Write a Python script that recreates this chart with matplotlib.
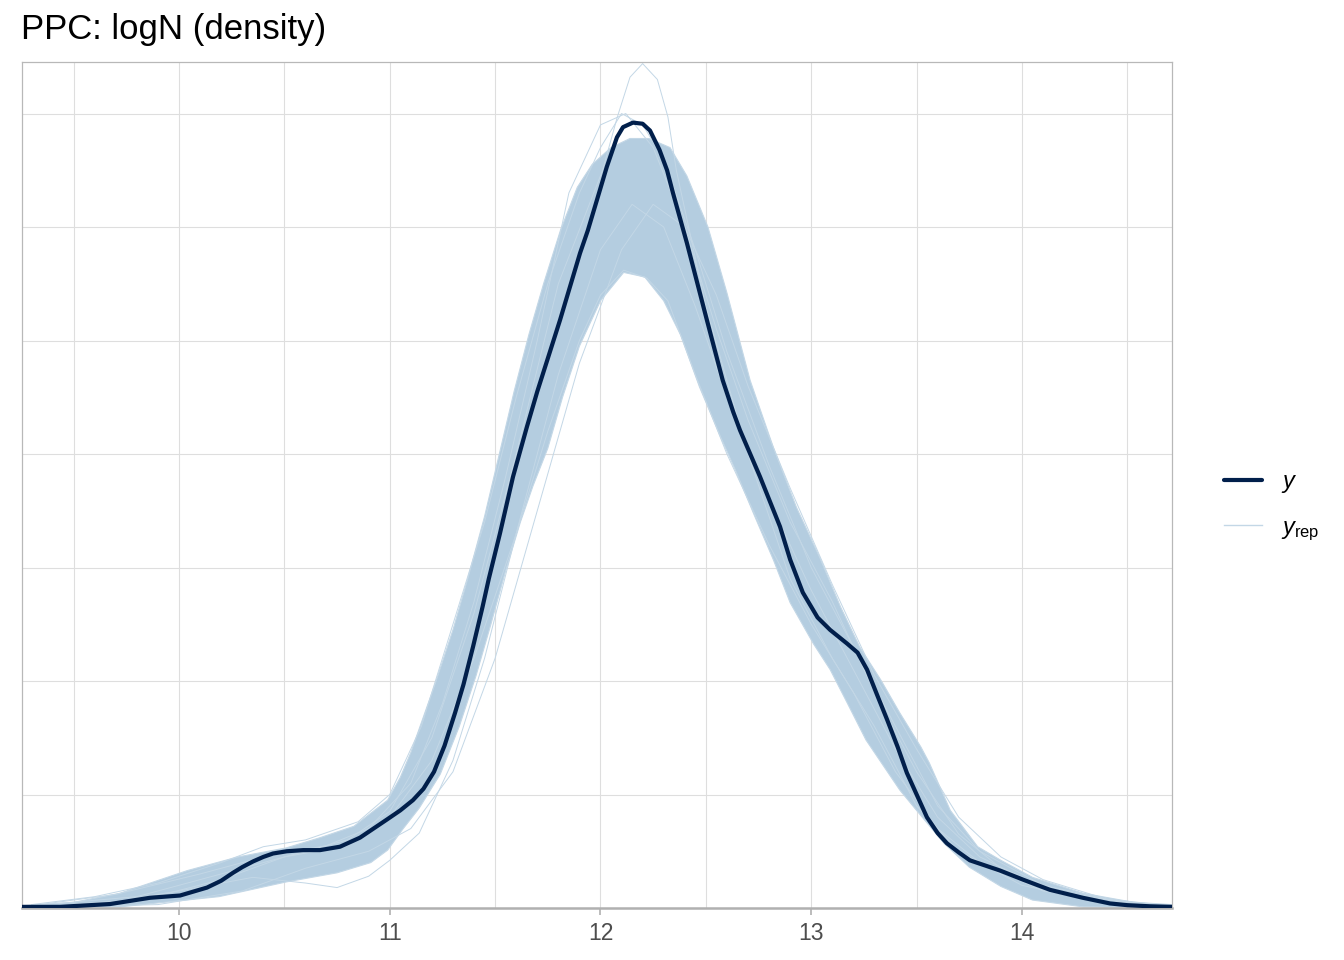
import numpy as np
import matplotlib
matplotlib.use('Agg')
import matplotlib.pyplot as plt
from matplotlib.lines import Line2D

plt.rcParams['font.family'] = ['Liberation Sans', 'DejaVu Sans']
plt.rcParams['mathtext.fontset'] = 'custom'
plt.rcParams['mathtext.rm'] = 'Liberation Sans'
plt.rcParams['mathtext.it'] = 'Liberation Sans:italic'

# observed density (y)
y_x = [9.255, 9.435, 9.673, 9.862, 10.005, 10.133, 10.20, 10.256, 10.30, 10.351,
       10.40, 10.446, 10.512, 10.59, 10.669, 10.764, 10.859, 10.987, 11.05, 11.11,
       11.16, 11.21, 11.26, 11.31, 11.35, 11.395, 11.44, 11.47, 11.523, 11.585,
       11.651, 11.70, 11.808, 11.903, 11.94, 11.998, 12.03, 12.078, 12.107, 12.154,
       12.20, 12.235, 12.28, 12.316, 12.344, 12.410, 12.505, 12.58, 12.63, 12.662,
       12.757, 12.852, 12.90, 12.96, 13.03, 13.09, 13.17, 13.22, 13.265, 13.31,
       13.36, 13.41, 13.454, 13.549, 13.60, 13.644, 13.70, 13.753, 13.896, 14.005,
       14.133, 14.289, 14.418, 14.50, 14.607, 14.712]
y_d = [0.001, 0.001, 0.0035, 0.009, 0.011, 0.018, 0.024, 0.031, 0.036, 0.041,
       0.045, 0.048, 0.050, 0.051, 0.051, 0.054, 0.062, 0.078, 0.086, 0.095,
       0.105, 0.120, 0.143, 0.172, 0.197, 0.230, 0.265, 0.290, 0.330, 0.380,
       0.424, 0.455, 0.518, 0.577, 0.597, 0.633, 0.653, 0.679, 0.688, 0.692,
       0.691, 0.685, 0.668, 0.650, 0.630, 0.586, 0.518, 0.465, 0.437, 0.421,
       0.380, 0.336, 0.307, 0.278, 0.256, 0.245, 0.233, 0.225, 0.210, 0.189,
       0.166, 0.142, 0.119, 0.080, 0.066, 0.057, 0.049, 0.042, 0.033, 0.025,
       0.016, 0.009, 0.004, 0.0025, 0.0015, 0.001]

# dense core of the replicated densities (upper / lower envelope)
up_x = [9.255, 9.50, 9.72, 10.04, 10.28, 10.51, 10.67, 10.83, 10.99, 11.05,
        11.10, 11.14, 11.22, 11.30, 11.37, 11.45, 11.52, 11.59, 11.66, 11.73,
        11.81, 11.89, 11.96, 12.05, 12.14, 12.23, 12.33, 12.41, 12.51, 12.60,
        12.71, 12.82, 12.93, 13.04, 13.14, 13.23, 13.33, 13.42, 13.52, 13.56,
        13.66, 13.79, 13.90, 14.05, 14.29, 14.53, 14.71]
up_d = [0.002, 0.005, 0.013, 0.033, 0.045, 0.053, 0.062, 0.072, 0.095, 0.115,
        0.137, 0.158, 0.200, 0.245, 0.290, 0.345, 0.400, 0.455, 0.505, 0.550,
        0.597, 0.635, 0.655, 0.670, 0.678, 0.678, 0.670, 0.645, 0.600, 0.542,
        0.465, 0.406, 0.353, 0.309, 0.265, 0.230, 0.201, 0.172, 0.142, 0.128,
        0.086, 0.054, 0.042, 0.027, 0.013, 0.005, 0.003]
lo_x = [9.255, 9.72, 10.19, 10.51, 10.75, 10.91, 10.99, 11.06, 11.14, 11.24,
        11.33, 11.41, 11.48, 11.55, 11.62, 11.68, 11.75, 11.82, 11.90, 12.00,
        12.11, 12.21, 12.30, 12.38, 12.47, 12.57, 12.64, 12.73, 12.82, 12.90,
        13.01, 13.09, 13.17, 13.26, 13.34, 13.42, 13.50, 13.63, 13.75, 13.90,
        14.05, 14.29, 14.71]
lo_d = [0.0005, 0.001, 0.010, 0.023, 0.031, 0.040, 0.051, 0.069, 0.088, 0.118,
        0.160, 0.205, 0.250, 0.297, 0.340, 0.372, 0.405, 0.450, 0.495, 0.535,
        0.560, 0.556, 0.535, 0.505, 0.459, 0.415, 0.386, 0.346, 0.307, 0.269,
        0.233, 0.210, 0.181, 0.148, 0.126, 0.104, 0.086, 0.057, 0.036, 0.019,
        0.007, 0.001, 0.0005]

# a few single replicated densities at the edges of the band
rep_tall_x = [9.3, 9.8, 10.2, 10.5, 10.8, 11.0, 11.2, 11.4, 11.6, 11.8, 12.01, 12.08,
              12.14, 12.20, 12.27, 12.32, 12.36, 12.5, 12.7, 12.9, 13.1, 13.3, 13.5,
              13.7, 14.0, 14.4, 14.7]
rep_tall_d = [0.001, 0.006, 0.025, 0.045, 0.06, 0.085, 0.15, 0.26, 0.40, 0.55, 0.650, 0.697,
              0.732, 0.744, 0.730, 0.697, 0.650, 0.53, 0.40, 0.29, 0.22, 0.16, 0.09,
              0.05, 0.02, 0.004, 0.001]
rep_low_x = [9.3, 9.8, 10.2, 10.5, 10.8, 11.0, 11.2, 11.4, 11.6, 11.75, 11.9, 12.0, 12.11,
             12.22, 12.32, 12.45, 12.6, 12.8, 13.0, 13.2, 13.4, 13.6, 13.8, 14.1, 14.5, 14.7]
rep_low_d = [0.002, 0.01, 0.03, 0.045, 0.055, 0.08, 0.13, 0.22, 0.33, 0.42, 0.50, 0.54, 0.562,
             0.555, 0.535, 0.47, 0.40, 0.32, 0.25, 0.19, 0.12, 0.07, 0.04, 0.015, 0.003, 0.001]
rep_dip_x = [9.3, 9.7, 10.0, 10.35, 10.6, 10.75, 10.9, 11.0, 11.14, 11.3, 11.45, 11.6, 11.8,
             12.0, 12.15, 12.3, 12.45, 12.6, 12.8, 13.0, 13.2, 13.4, 13.6, 13.8, 14.1, 14.5, 14.7]
rep_dip_d = [0.001, 0.006, 0.015, 0.027, 0.022, 0.018, 0.028, 0.042, 0.066, 0.13, 0.22, 0.33, 0.47,
             0.58, 0.62, 0.60, 0.53, 0.45, 0.36, 0.28, 0.21, 0.14, 0.08, 0.045, 0.018, 0.004, 0.001]
rep_hi_x = [9.3, 9.6, 9.9, 10.2, 10.4, 10.6, 10.85, 11.0, 11.15, 11.3, 11.45, 11.6, 11.75,
            11.9, 12.0, 12.1, 12.2, 12.3, 12.45, 12.6, 12.8, 13.0, 13.2, 13.4, 13.6, 13.8,
            14.1, 14.5, 14.7]
rep_hi_d = [0.003, 0.01, 0.022, 0.04, 0.054, 0.06, 0.076, 0.10, 0.16, 0.25, 0.34, 0.45, 0.55,
            0.63, 0.67, 0.70, 0.69, 0.66, 0.58, 0.49, 0.39, 0.30, 0.23, 0.16, 0.09, 0.05,
            0.02, 0.004, 0.001]
rep_right_x = [9.3, 9.9, 10.3, 10.6, 10.9, 11.1, 11.3, 11.5, 11.7, 11.9, 12.1, 12.25, 12.4,
               12.55, 12.7, 12.9, 13.1, 13.3, 13.5, 13.7, 13.9, 14.1, 14.4, 14.7]
rep_right_d = [0.0005, 0.003, 0.015, 0.035, 0.05, 0.07, 0.12, 0.22, 0.35, 0.48, 0.58, 0.62, 0.60,
               0.54, 0.46, 0.37, 0.285, 0.205, 0.14, 0.08, 0.045, 0.025, 0.008, 0.002]
rep_left_x = [9.3, 9.7, 10.1, 10.4, 10.7, 10.9, 11.1, 11.25, 11.4, 11.55, 11.7, 11.85, 12.0,
              12.12, 12.25, 12.4, 12.55, 12.7, 12.9, 13.1, 13.3, 13.5, 13.7, 13.9, 14.2, 14.7]
rep_left_d = [0.002, 0.012, 0.03, 0.045, 0.055, 0.07, 0.11, 0.18, 0.27, 0.38, 0.50, 0.63, 0.69,
              0.70, 0.67, 0.60, 0.51, 0.43, 0.34, 0.27, 0.19, 0.12, 0.065, 0.035, 0.012, 0.001]

reps = [(rep_tall_x, rep_tall_d), (rep_low_x, rep_low_d), (rep_dip_x, rep_dip_d),
        (rep_hi_x, rep_hi_d), (rep_right_x, rep_right_d), (rep_left_x, rep_left_d)]

dark = '#011f4b'
light = '#b4cde0'
line_light = '#c3d7e6'

fig = plt.figure(figsize=(13.44, 9.6), dpi=100)
ax = fig.add_axes([22 / 1344, 52 / 960, 1150 / 1344, 846 / 960])

band_x = np.concatenate([up_x, lo_x[::-1]])
band_y = np.concatenate([up_d, lo_d[::-1]])
ax.fill(band_x, band_y, color=light, lw=0.8, ec=line_light, zorder=2)
for rx, rd in reps:
    ax.plot(rx, rd, color=line_light, lw=0.7, zorder=2.5)
ax.plot(y_x, y_d, color=dark, lw=3.0, solid_capstyle='round', solid_joinstyle='round',
        zorder=3)

ax.set_xlim(9.255, 14.712)
ax.set_ylim(0, 0.7454)
ax.set_xticks([10, 11, 12, 13, 14])
ax.set_xticks([9.5, 10.5, 11.5, 12.5, 13.5, 14.5], minor=True)
ax.set_yticks([0.1, 0.2, 0.3, 0.4, 0.5, 0.6, 0.7])
ax.grid(True, which='both', color='#dedede', lw=0.8, zorder=0)
ax.set_axisbelow(True)
ax.tick_params(axis='x', which='major', colors='#b0b0b0', length=5, width=1.2,
               labelcolor='#4d4d4d', labelsize=16.5, pad=5)
ax.tick_params(axis='x', which='minor', length=0)
ax.tick_params(axis='y', length=0, labelleft=False)
for side in ['left', 'top', 'right']:
    ax.spines[side].set_color('#b8b8b8')
    ax.spines[side].set_linewidth(0.9)
ax.spines['bottom'].set_color('#b0b0b0')
ax.spines['bottom'].set_linewidth(1.8)

fig.text(21 / 1344, 1 - 30 / 960, 'PPC: logN (density)', fontsize=25, va='center', ha='left',
         color='black')

handles = [Line2D([], [], color=dark, lw=3.0, solid_capstyle='round'),
           Line2D([], [], color=line_light, lw=1.0)]
fig.legend(handles, [r'$y$', r'$y_{\mathrm{rep}}$'], loc='center left',
           bbox_to_anchor=(1203 / 1344, 1 - 507 / 960), frameon=False, fontsize=17,
           handlelength=1.6, handletextpad=0.8, labelspacing=0.9)

fig.savefig('out.png', dpi=100)
